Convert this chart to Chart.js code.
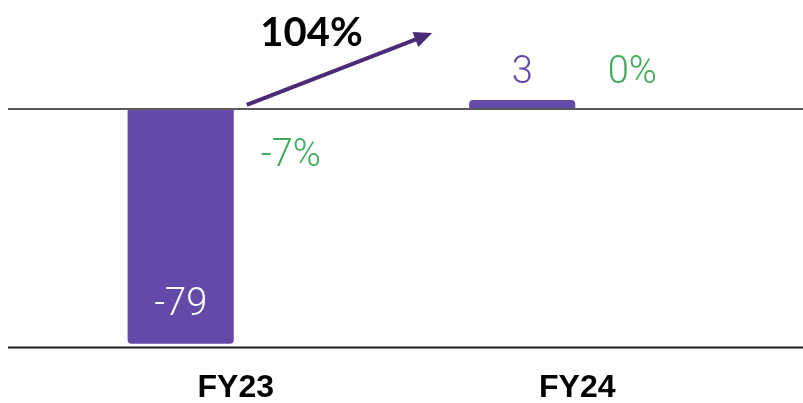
<!DOCTYPE html>
<html>
<head>
<meta charset="utf-8">
<script src="https://cdn.jsdelivr.net/npm/chart.js@4"></script>
<style>
  html, body { margin: 0; padding: 0; background: #fff; }
  #wrap { width: 803px; height: 403px; }
</style>
</head>
<body>
<div id="wrap"><canvas id="ebitChart"></canvas></div>
<script>
// chart data
const categories = ["FY23", "FY24"];
const values = [-79, 3];
const yoyLabels = ["-7%", "0%"];
const yoySpacer = [0, 0]; // second (hidden) series, only carries the % labels
const growthLabel = "104%";

const purple = "#6549a8";
const green = "#3eaa5b";

// lines, value labels and the growth arrow
const overlay = {
    id: "overlay",
    afterDatasetsDraw(chart) {
        const { ctx } = chart;
        const y = chart.scales.y;
        const zeroY = y.getPixelForValue(0);
        const baseY = chart.chartArea.bottom;
        const main = chart.getDatasetMeta(0).data;
        const side = chart.getDatasetMeta(1).data;

        ctx.save();
        // zero line + bottom axis line across the full width
        ctx.lineWidth = 2;
        ctx.strokeStyle = "#5a5a5a";
        ctx.beginPath(); ctx.moveTo(8, zeroY); ctx.lineTo(chart.width, zeroY); ctx.stroke();
        ctx.strokeStyle = "#1e1e1e";
        ctx.beginPath(); ctx.moveTo(8, baseY + 1); ctx.lineTo(chart.width, baseY + 1); ctx.stroke();

        ctx.textAlign = "center";
        ctx.textBaseline = "middle";
        ctx.font = "300 38px Roboto, 'Noto Sans', sans-serif";

        // series values
        values.forEach((v, i) => {
            const bar = main[i];
            if (v < 0) {
                ctx.fillStyle = "#ffffff";
                ctx.fillText(String(v), bar.x, bar.y - 38);
            } else {
                ctx.fillStyle = purple;
                ctx.fillText(String(v), bar.x, bar.y - 27);
            }
        });

        // yoy % labels
        yoyLabels.forEach((t, i) => {
            const neg = t.trim().startsWith("-");
            ctx.fillStyle = green;
            ctx.fillText(t, side[i].x, neg ? zeroY + 48 : zeroY - 35);
        });

        // growth arrow from FY23 to FY24
        const x0 = main[0].x + main[0].width / 2 + 13;
        const y0 = zeroY - 4;
        const x1 = main[1].x - 90;
        const y1 = zeroY - 76;
        const ang = Math.atan2(y1 - y0, x1 - x0);
        ctx.strokeStyle = "#4b2a78";
        ctx.fillStyle = "#4b2a78";
        ctx.lineWidth = 4;
        ctx.beginPath();
        ctx.moveTo(x0, y0);
        ctx.lineTo(x1 - 12 * Math.cos(ang), y1 - 12 * Math.sin(ang));
        ctx.stroke();
        ctx.beginPath();
        ctx.moveTo(x1, y1);
        ctx.lineTo(x1 - 18 * Math.cos(ang) + 8 * Math.sin(ang), y1 - 18 * Math.sin(ang) - 8 * Math.cos(ang));
        ctx.lineTo(x1 - 18 * Math.cos(ang) - 8 * Math.sin(ang), y1 - 18 * Math.sin(ang) + 8 * Math.cos(ang));
        ctx.closePath();
        ctx.fill();

        ctx.fillStyle = "#000000";
        ctx.font = "bold 40px Lato, Inter, sans-serif";
        ctx.fillText(growthLabel, (x0 + x1) / 2 - 28, zeroY - 76);
        ctx.restore();
    }
};

new Chart(document.getElementById("ebitChart"), {
    type: "bar",
    data: {
        labels: categories,
        datasets: [
            {
                data: values,
                backgroundColor: purple,
                borderRadius: 4,
                borderSkipped: "start",
                categoryPercentage: 0.645,
                barPercentage: 0.964
            },
            {
                data: yoySpacer,
                backgroundColor: "rgba(0,0,0,0)",
                categoryPercentage: 0.645,
                barPercentage: 0.964
            }
        ]
    },
    options: {
        responsive: true,
        maintainAspectRatio: false,
        animation: false,
        layout: { padding: { left: 65, right: 55, top: 2, bottom: -26 } },
        plugins: {
            legend: { display: false },
            tooltip: { enabled: false }
        },
        scales: {
            x: {
                grid: { display: false, drawTicks: false },
                border: { display: false },
                ticks: {
                    color: "#000000",
                    padding: 22,
                    font: { family: "'Liberation Sans', Arial, sans-serif", size: 32, weight: "bold" }
                }
            },
            y: {
                display: false,
                min: -80,
                max: 36
            }
        }
    },
    plugins: [overlay]
});
</script>
</body>
</html>
